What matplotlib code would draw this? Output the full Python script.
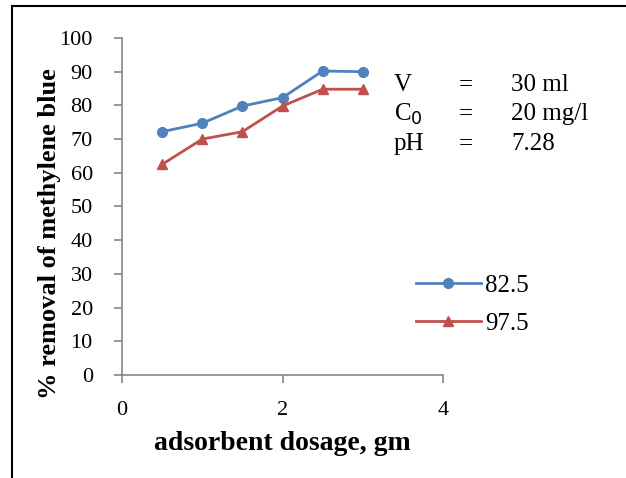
import matplotlib
matplotlib.use("Agg")
import matplotlib.pyplot as plt
from matplotlib.lines import Line2D

plt.rcParams['font.family'] = ['Liberation Serif', 'DejaVu Serif']

dosage = [0.5, 1.0, 1.5, 2.0, 2.5, 3.0]
removal_825 = [72.2, 74.7, 79.8, 82.3, 90.2, 90.0]
removal_975 = [62.5, 70.0, 72.2, 79.8, 84.8, 84.8]
series_names = ["82.5", "97.5"]
x_ticks = [0, 2, 4]
y_ticks = list(range(0, 101, 10))

blue = "#4F81BD"
red = "#C0504D"
grey = "#868686"

fig = plt.figure(figsize=(6.26, 4.78), dpi=100)
ax = fig.add_axes([122/626, 1 - 375/478, (443-122)/626, (375-38)/478])

ax.plot(dosage, removal_825, color=blue, lw=2, marker="o", ms=7, label=series_names[0])
ax.plot(dosage, removal_975, color=red, lw=2, marker="^", ms=7, label=series_names[1])

ax.set_xlim(0, 4)
ax.set_ylim(0, 100)
ax.set_xticks(x_ticks)
ax.set_yticks(y_ticks)
for s in ["top", "right"]:
    ax.spines[s].set_visible(False)
for s in ["left", "bottom"]:
    ax.spines[s].set_color(grey)
    ax.spines[s].set_linewidth(1.2)
ax.tick_params(axis="both", colors=grey, length=6, width=1.2, labelsize=16, labelcolor="black")
ax.tick_params(axis="y", pad=15)
ax.tick_params(axis="x", pad=13)

ax.set_xlabel("adsorbent dosage, gm", fontsize=20, fontweight="bold")
ax.xaxis.set_label_coords(0.5, -0.165)
ax.set_ylabel("% removal of methylene blue", fontsize=19, fontweight="bold")
ax.yaxis.set_label_coords(-0.19, 0.42)

# experiment conditions
rows = [("V", "30 ml", 85), ("C$_0$", "20 mg/l", 114), ("pH", "7.28", 144)]
for lab, val, py in rows:
    fig.text(394/626, 1 - py/478, lab, fontsize=18, va="center")
    fig.text(459/626, 1 - py/478, "=", fontsize=18, va="center")
    fig.text(511/626, 1 - py/478, val, fontsize=18, va="center")

# legend
leg = fig.legend(handles=[Line2D([], [], color=blue, lw=2, marker="o", ms=7),
                          Line2D([], [], color=red, lw=2, marker="^", ms=7)],
                 labels=series_names, loc="upper left",
                 bbox_to_anchor=(393/626, 1 - 252/478), frameon=False,
                 fontsize=18, handlelength=2.6, handletextpad=0.2, labelspacing=0.6)

# outer frame
fig.add_artist(Line2D([12/626, 12/626], [0, 1 - 6/478], transform=fig.transFigure, color="black", lw=1.5))
fig.add_artist(Line2D([12/626, 1], [1 - 6/478, 1 - 6/478], transform=fig.transFigure, color="black", lw=1.5))

fig.savefig("out.png", dpi=100)
